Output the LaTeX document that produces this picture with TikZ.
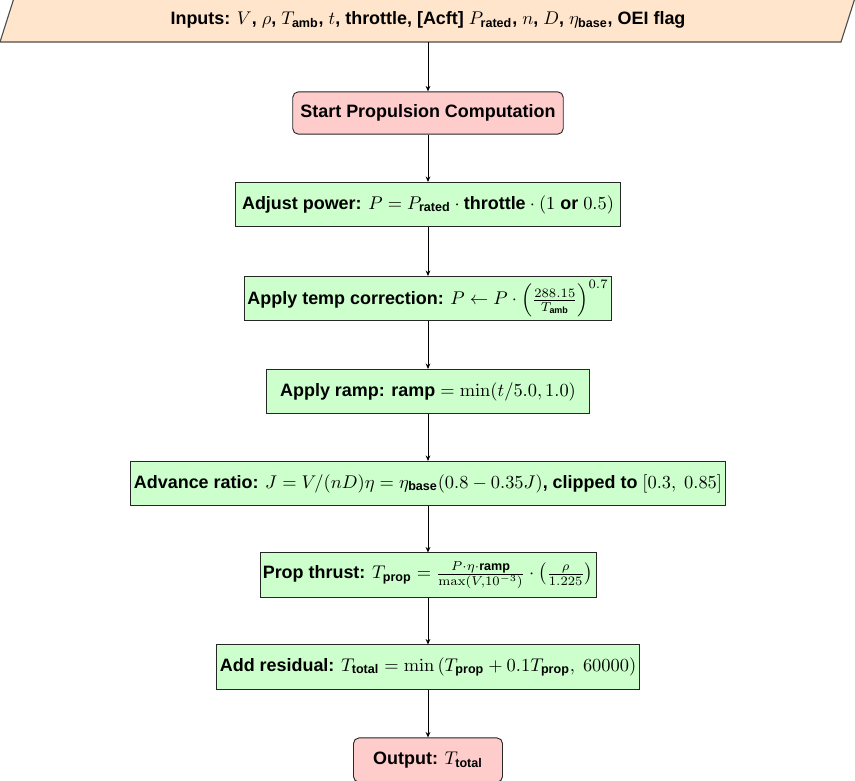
\documentclass[tikz,border=0pt]{standalone}
\usepackage{amsmath}
\usepackage[no-math]{fontspec}
\setmainfont{Liberation Sans}
\usetikzlibrary{arrows.meta}
\definecolor{boxgreen}{HTML}{CCFFCC}
\definecolor{boxpink}{HTML}{FFCCCC}
\definecolor{boxpeach}{HTML}{FFE5CC}
\newcommand{\tx}[1]{\text{\bfseries #1}}
\begin{document}
\begin{tikzpicture}[x=0.5435pt,y=-0.5435pt,
  every node/.style={font=\fontsize{9.75}{12}\selectfont\bfseries},
  procbox/.style={draw=black!85, line width=0.5pt, fill=boxgreen, minimum height=24pt, inner xsep=1.5pt, inner ysep=1.5pt},
  termbox/.style={draw=black!85, line width=0.5pt, fill=boxpink, rounded corners=3pt, minimum height=23pt, inner xsep=2pt},
  flow/.style={draw=black, line width=0.5pt, -{Stealth[length=3pt,width=2.6pt]}}]
\useasboundingbox (0,0) rectangle (855,780);
% input parallelogram
\draw[draw=black!70, line width=0.6pt, fill=boxpeach] (0,42) -- (841,42) -- (855,-2) -- (14,-2) -- cycle;
\node[minimum height=24pt, inner sep=0pt] (in) at (428,20)
  {Inputs: $V$, $\rho$, $T_{\tx{amb}}$, $t$, throttle, [Acft] $P_{\tx{rated}}$, $n$, $D$, $\eta_{\tx{base}}$, OEI flag};
\node[termbox, minimum width=147pt] (start) at (428,113) {Start Propulsion Computation};
\node[procbox, minimum width=209.5pt] (pow) at (428,204.5)
  {Adjust power: $P = P_{\tx{rated}} \cdot \tx{throttle} \cdot (1 \tx{ or } 0.5)$};
\node[procbox, minimum width=199pt] (temp) at (428,298.5)
  {Apply temp correction: $P \leftarrow P \cdot \left(\frac{288.15}{T_{\tx{amb}}}\right)^{0.7}$};
\node[procbox, minimum width=175.5pt] (ramp) at (428,391.5)
  {Apply ramp: $\tx{ramp} = \min(t/5.0, 1.0)$};
\node[procbox, minimum width=323.5pt] (adv) at (428,483.5)
  {Advance ratio: $J = V/(nD) \eta = \eta_{\tx{base}}(0.8 - 0.35J)$, clipped to $[0.3,\ 0.85]$};
\node[procbox, minimum width=178pt] (prop) at (428,575)
  {Prop thrust: $T_{\tx{prop}} = \frac{P \cdot \eta \cdot \tx{ramp}}{\max(V, 10^{-3})} \cdot \bigl(\frac{\rho}{1.225}\bigr)$};
\node[procbox, minimum width=229.5pt] (res) at (428,667)
  {Add residual: $T_{\tx{total}} = \min\left(T_{\tx{prop}} + 0.1T_{\tx{prop}},\ 60000\right)$};
\node[termbox, minimum width=81pt, minimum height=24pt] (out) at (428,760) {Output: $T_{\tx{total}}$};
\draw[flow] (in.south) -- (start.north);
\draw[flow] (start) -- (pow);
\draw[flow] (pow) -- (temp);
\draw[flow] (temp) -- (ramp);
\draw[flow] (ramp) -- (adv);
\draw[flow] (adv) -- (prop);
\draw[flow] (prop) -- (res);
\draw[flow] (res) -- (out);
\end{tikzpicture}
\end{document}
